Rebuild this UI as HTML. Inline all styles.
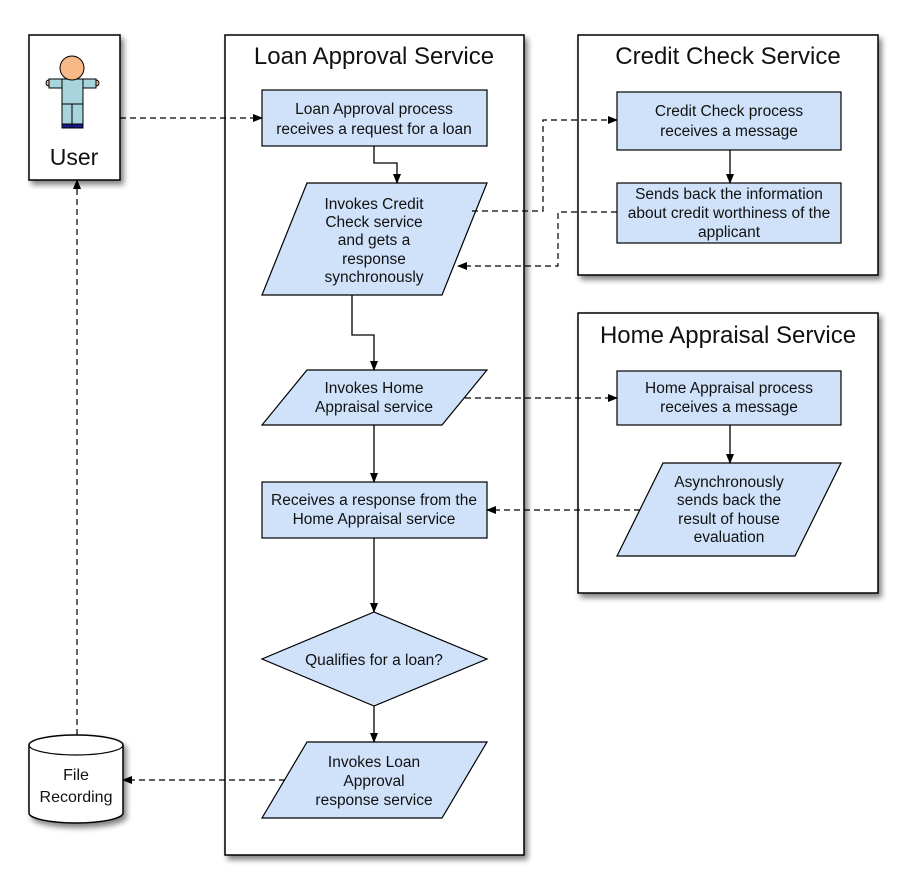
<!DOCTYPE html>
<html><head><meta charset="utf-8"><style>body{margin:0;background:#fff}svg{display:block}text{font-family:"Liberation Sans",Arial,sans-serif;fill:#111}</style></head>
<body>
<svg width="915" height="885" viewBox="0 0 915 885" xmlns="http://www.w3.org/2000/svg">
<defs>
<filter id="sh" x="-10%" y="-10%" width="130%" height="130%"><feGaussianBlur in="SourceAlpha" stdDeviation="3"/><feOffset dx="3" dy="4"/><feComponentTransfer><feFuncA type="linear" slope="0.5"/></feComponentTransfer><feMerge><feMergeNode/><feMergeNode in="SourceGraphic"/></feMerge></filter>
<marker id="ar" markerWidth="10" markerHeight="10" refX="9" refY="5" orient="auto" markerUnits="userSpaceOnUse"><path d="M0,1 L10,5 L0,9 z" fill="#000"/></marker>
</defs>
<g fill="#fff" stroke="#000" stroke-width="1.5" filter="url(#sh)">
<rect x="29" y="35" width="91" height="145"/>
<rect x="225" y="35" width="299" height="820"/>
<rect x="578" y="35" width="300" height="240"/>
<rect x="578" y="313" width="300" height="280"/>
<path d="M29,745 A47,10 0 0 1 123,745 L123,813 A47,10 0 0 1 29,813 Z"/>
</g>
<path d="M29,745 A47,10 0 0 0 123,745" fill="none" stroke="#000" stroke-width="1.2"/>
<g stroke="#000" stroke-width="1">
<rect x="46" y="80" width="7" height="6" rx="3" fill="#f8b888"/>
<rect x="92" y="80" width="7" height="6" rx="3" fill="#f8b888"/>
<rect x="49" y="79" width="47" height="9" fill="#a8d4de"/>
<rect x="62" y="79" width="21" height="25" fill="#a8d4de"/>
<rect x="62" y="104" width="10" height="22" fill="#a8d4de"/>
<rect x="72" y="104" width="11" height="22" fill="#a8d4de"/>
<rect x="62" y="124" width="10" height="4" fill="#1a1a8a"/>
<rect x="72" y="124" width="11" height="4" fill="#1a1a8a"/>
<circle cx="72" cy="68" r="12" fill="#f8b888"/>
</g>
<text x="74" y="165" font-size="23" text-anchor="middle">User</text>
<text x="374" y="64" font-size="24" text-anchor="middle">Loan Approval Service</text>
<text x="728" y="64" font-size="24" text-anchor="middle">Credit Check Service</text>
<text x="728" y="343" font-size="24" text-anchor="middle">Home Appraisal Service</text>
<g fill="#cfe2fa" stroke="#000" stroke-width="1.2">
<rect x="262" y="90" width="225" height="56"/>
<polygon points="307,183 487,183 442,295 262,295"/>
<polygon points="307,370 487,370 442,425 262,425"/>
<rect x="262" y="482" width="225" height="56"/>
<polygon points="374,612 487,659 374,706 262,659"/>
<polygon points="307,742 487,742 442,818 262,818"/>
<rect x="617" y="92" width="224" height="58"/>
<rect x="617" y="183" width="224" height="60"/>
<rect x="617" y="371" width="224" height="54"/>
<polygon points="663,463 841,463 795,556 617,556"/>
</g>
<g font-size="15.5" text-anchor="middle">
<text x="374" y="114">Loan Approval process</text><text x="374" y="134">receives a request for a loan</text>
<text x="374" y="209">Invokes Credit</text><text x="374" y="227">Check service</text><text x="374" y="245">and gets a</text><text x="374" y="264">response</text><text x="374" y="282">synchronously</text>
<text x="374" y="393">Invokes Home</text><text x="374" y="412">Appraisal service</text>
<text x="374" y="505">Receives a response from the</text><text x="374" y="524">Home Appraisal service</text>
<text x="374" y="665">Qualifies for a loan?</text>
<text x="374" y="767">Invokes Loan</text><text x="374" y="786">Approval</text><text x="374" y="805">response service</text>
<text x="729" y="116">Credit Check process</text><text x="729" y="136">receives a message</text>
<text x="729" y="199">Sends back the information</text><text x="729" y="218">about credit worthiness of the</text><text x="729" y="237">applicant</text>
<text x="729" y="393">Home Appraisal process</text><text x="729" y="412">receives a message</text>
<text x="729" y="487">Asynchronously</text><text x="729" y="505">sends back the</text><text x="729" y="524">result of house</text><text x="729" y="542">evaluation</text>
<text x="76" y="780" font-size="16">File</text><text x="76" y="802" font-size="16">Recording</text>
</g>
<g fill="none" stroke="#000" stroke-width="1.3" marker-end="url(#ar)">
<path d="M374,146 V163 H397 V183"/>
<path d="M352,295 V335 H374 V370"/>
<path d="M374,425 V482"/>
<path d="M374,538 V612"/>
<path d="M374,706 V742"/>
<path d="M730,150 V183"/>
<path d="M730,425 V463"/>
</g>
<g fill="none" stroke="#000" stroke-width="1.2" stroke-dasharray="6,4" marker-end="url(#ar)">
<path d="M120,118 H262"/>
<path d="M472,211 H543 V120 H617"/>
<path d="M617,212 H558 V266 H458"/>
<path d="M465,398 H617"/>
<path d="M640,510 H487"/>
<path d="M285,780 H123"/>
<path d="M77,735 V180"/>
</g>
</svg>
</body></html>
